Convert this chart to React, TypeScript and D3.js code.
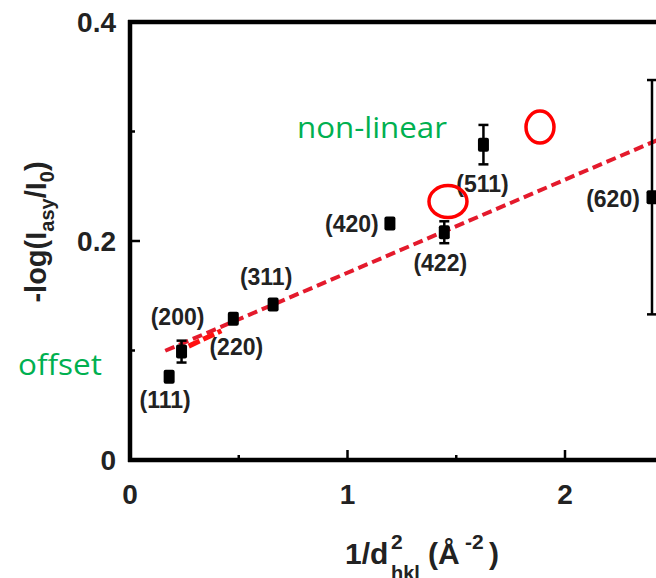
import React from "react";
import { scaleLinear, line } from "d3";

const labels = ["(111)", "(200)", "(220)", "(311)", "(420)", "(422)", "(511)", "(620)"];
const xVals = [0.18, 0.237, 0.475, 0.658, 1.195, 1.445, 1.625, 2.4];
const yVals = [0.076, 0.099, 0.129, 0.142, 0.216, 0.208, 0.288, 0.24];
const yErr = [0, 0.01, 0, 0, 0, 0.01, 0.018, 0.107];

const xTicks = [0, 1, 2];
const xMinor = [0.5, 1.5];
const yTicks = [0, 0.2, 0.4];
const yTickText = ["0", "0.2", "0.4"];
const yMinor = [0.1, 0.3];

// linear fit
const fitX = [0.162, 2.6];
const fitIntercept = 0.086;
const fitSlope = 0.085;
const segX = [0.27, 0.42];
const segY = [0.104, 0.118];

// highlighted spots
const circleX = [1.462, 1.885];
const circleY = [0.236, 0.304];

// label placement (dx, dy in px from the point)
const labelOffsets: [number, number][] = [
  [-4, 31], [-4, -27], [3, 36], [-7, -20], [-38, 9], [-4, 39], [-1, 47], [-39, 10],
];

const W = 656;
const H = 578;

export default function App() {
  const x = scaleLinear().domain([0, 2.4]).range([130, 652]);
  const y = scaleLinear().domain([0, 0.4]).range([460, 22]);

  const fitLine = line<number>()
    .x((d) => x(d))
    .y((d) => y(fitIntercept + fitSlope * d));
  const segLine = line<number>()
    .x((d) => x(d))
    .y((d, i) => y(segY[i]));

  const bold = { fontFamily: "Liberation Sans, Arial, sans-serif", fontWeight: 700 };
  const green = "#00b050";

  return (
    <svg
      width={W}
      height={H}
      style={{ position: "absolute", left: 0, top: 0, background: "#fff" }}
    >
      {/* fit line */}
      <path d={fitLine(fitX) || ""} fill="none" stroke="#e41a2c" strokeWidth={4} strokeDasharray="10 5" />
      <path d={segLine(segX) || ""} fill="none" stroke="#ff1010" strokeWidth={5} strokeDasharray="12 4" />

      {/* axes / frame */}
      <line x1={x(0) - 2} x2={W} y1={y(0)} y2={y(0)} stroke="#000" strokeWidth={4.5} />
      <line x1={x(0) - 2} x2={W} y1={y(0.4)} y2={y(0.4)} stroke="#000" strokeWidth={4.5} />
      <line x1={x(0)} x2={x(0)} y1={y(0) + 2} y2={y(0.4) - 2} stroke="#000" strokeWidth={4.5} />
      {xTicks.filter((t) => t > 0).map((t) => (
        <line key={"xt" + t} x1={x(t)} x2={x(t)} y1={y(0)} y2={y(0) - 10} stroke="#000" strokeWidth={2.5} />
      ))}
      {xMinor.map((t) => (
        <line key={"xm" + t} x1={x(t)} x2={x(t)} y1={y(0)} y2={y(0) - 5} stroke="#000" strokeWidth={2.5} />
      ))}
      {yTicks.filter((t) => t > 0 && t < 0.4).map((t) => (
        <line key={"yt" + t} x1={x(0)} x2={x(0) + 10} y1={y(t)} y2={y(t)} stroke="#000" strokeWidth={2.5} />
      ))}
      {yMinor.map((t) => (
        <line key={"ym" + t} x1={x(0)} x2={x(0) + 5} y1={y(t)} y2={y(t)} stroke="#000" strokeWidth={2.5} />
      ))}
      {xTicks.map((t) => (
        <text key={"xl" + t} x={x(t)} y={y(0) + 44} textAnchor="middle" fontSize={28} fill="#222" style={bold}>
          {t}
        </text>
      ))}
      {yTicks.map((t, i) => (
        <text key={"yl" + t} x={x(0) - 14} y={y(t) + 10} textAnchor="end" fontSize={28} fill="#222" style={bold}>
          {yTickText[i]}
        </text>
      ))}

      {/* axis titles */}
      <text transform="translate(46,232) rotate(-90)" textAnchor="middle" fontSize={29} fill="#222" style={bold}>
        -log(I
        <tspan fontSize={20} dy={8}>asy</tspan>
        <tspan dy={-8}>/I</tspan>
        <tspan fontSize={20} dy={8}>0</tspan>
        <tspan dy={-8}>)</tspan>
      </text>
      <g fill="#222" style={bold}>
        <text x={345} y={564} fontSize={30}>1/d</text>
        <text x={391} y={549} fontSize={21}>2</text>
        <text x={391} y={580} fontSize={20}>hkl</text>
        <text x={428} y={564} fontSize={30}>(Å</text>
        <text x={465} y={549} fontSize={21}>-2</text>
        <text x={489} y={564} fontSize={30}>)</text>
      </g>

      {/* points with error bars */}
      {xVals.map((xv, i) => {
        const cx = x(xv);
        const cy = y(yVals[i]);
        const e = yErr[i];
        return (
          <g key={"p" + i}>
            {e > 0 && (
              <g stroke="#000" strokeWidth={2.5}>
                <line x1={cx} x2={cx} y1={y(yVals[i] + e)} y2={y(yVals[i] - e)} />
                <line x1={cx - 5} x2={cx + 5} y1={y(yVals[i] + e)} y2={y(yVals[i] + e)} />
                <line x1={cx - 5} x2={cx + 5} y1={y(yVals[i] - e)} y2={y(yVals[i] - e)} />
              </g>
            )}
            <rect x={cx - 5.5} y={cy - 7} width={11} height={14} rx={2} fill="#000" />
            <text
              x={cx + labelOffsets[i][0]}
              y={cy + labelOffsets[i][1]}
              textAnchor="middle"
              fontSize={23}
              fill="#222"
              style={bold}
            >
              {labels[i]}
            </text>
          </g>
        );
      })}

      {/* red circles */}
      <ellipse cx={x(circleX[0])} cy={y(circleY[0])} rx={19} ry={16} fill="none" stroke="#ff0000" strokeWidth={3.5} />
      <ellipse cx={x(circleX[1])} cy={y(circleY[1])} rx={14} ry={16} fill="none" stroke="#ff0000" strokeWidth={3.5} />

      {/* annotations */}
      <text x={297} y={138} fontSize={30} fill={green} fontFamily="Open Sans, sans-serif" textLength={150} lengthAdjust="spacingAndGlyphs">
        non-linear
      </text>
      <text x={18} y={375} fontSize={30} fill={green} fontFamily="Open Sans, sans-serif" textLength={84} lengthAdjust="spacingAndGlyphs">
        offset
      </text>
    </svg>
  );
}
